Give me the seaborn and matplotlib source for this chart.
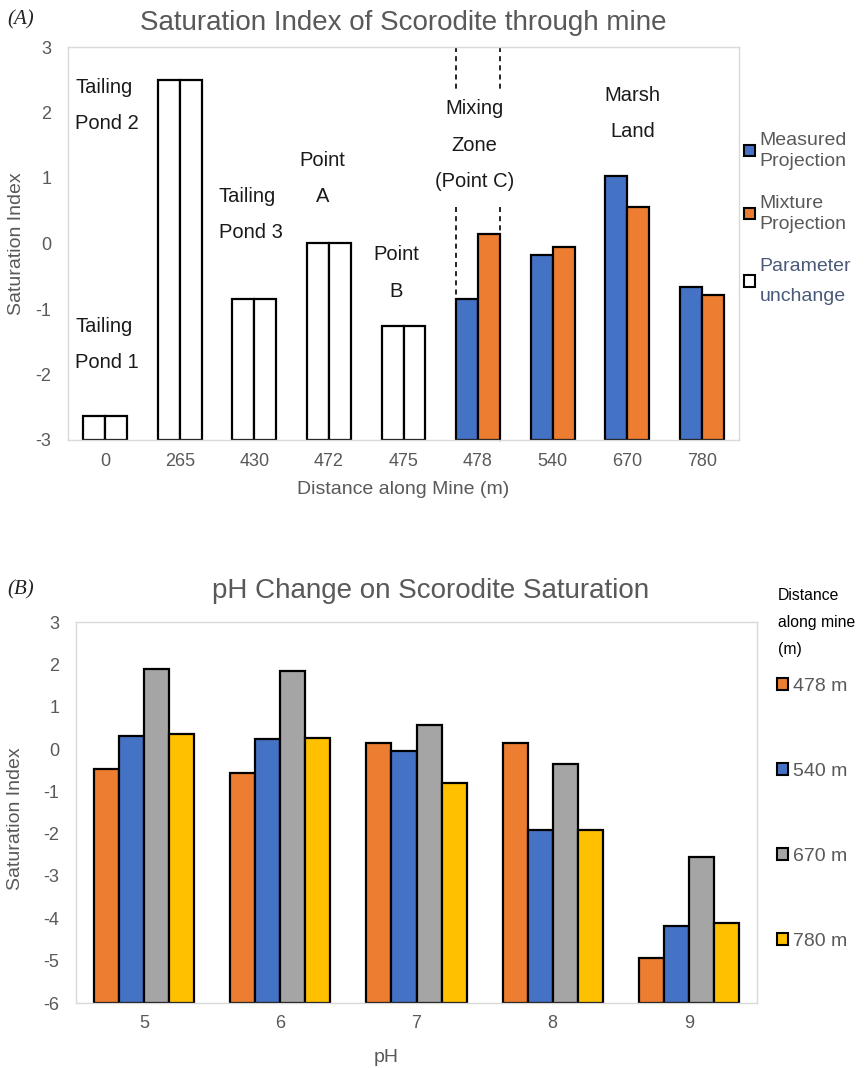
import matplotlib
matplotlib.use("Agg")
import matplotlib.pyplot as plt
from matplotlib.patches import Patch
import pandas as pd
import seaborn as sns

# ---------------- data ----------------
distances = ["0", "265", "430", "472", "475", "478", "540", "670", "780"]
measured = [-2.63, 2.50, -0.85, 0.00, -1.26, -0.85, -0.18, 1.03, -0.67]
mixture = [-2.63, 2.50, -0.85, 0.00, -1.26, 0.14, -0.05, 0.55, -0.79]
unchanged_sites = ["0", "265", "430", "472", "475"]
series_a = ["Measured Projection", "Mixture Projection"]

ph_levels = ["5", "6", "7", "8", "9"]
si_478 = [-0.48, -0.56, 0.13, 0.13, -4.94]
si_540 = [0.31, 0.23, -0.05, -1.91, -4.17]
si_670 = [1.90, 1.84, 0.56, -0.36, -2.56]
si_780 = [0.36, 0.27, -0.80, -1.91, -4.11]
dist_labels = ["478 m", "540 m", "670 m", "780 m"]

# ---------------- style ----------------
BLUE, ORANGE, GRAY, YELLOW = "#4472C4", "#ED7D31", "#A5A5A5", "#FFC000"
TXT = "#595959"
SPINE = "#D9D9D9"

sns.set_style("white")
plt.rcParams["font.family"] = ["Liberation Sans", "DejaVu Sans"]
plt.rcParams["axes.unicode_minus"] = False

fig = plt.figure(figsize=(8.65, 10.68), dpi=100)
W, H = 865, 1068
ax1 = fig.add_axes([68 / W, 1 - 440 / H, (739 - 68) / W, (440 - 47) / H])
ax2 = fig.add_axes([76 / W, 1 - 1003 / H, (757 - 76) / W, (1003 - 622) / H])


def rebase(ax, base):
    for p in ax.patches:
        top = p.get_y() + p.get_height()
        p.set_y(base)
        p.set_height(top - base)


def style_axes(ax):
    for s in ax.spines.values():
        s.set_visible(True)
        s.set_color(SPINE)
        s.set_linewidth(1.0)
    ax.tick_params(axis="both", length=0, labelsize=13, colors=TXT)
    ax.tick_params(axis="x", pad=9)
    ax.tick_params(axis="y", pad=12)
    ax.grid(False)


# ---------------- panel A ----------------
df_a = pd.DataFrame({
    "distance": distances * 2,
    "si": measured + mixture,
    "series": [series_a[0]] * len(distances) + [series_a[1]] * len(distances),
})
width_a = 0.59
sns.barplot(data=df_a, x="distance", y="si", hue="series", order=distances,
            hue_order=series_a, palette=[BLUE, ORANGE], width=width_a,
            saturation=1, edgecolor="black", linewidth=1.6, errorbar=None,
            legend=False, ax=ax1)
rebase(ax1, -3)
for p in ax1.patches:
    idx = int(round(p.get_x() + p.get_width() / 2))
    if distances[idx] in unchanged_sites:
        p.set_facecolor("white")

ax1.set_ylim(-3, 3)
ax1.set_xlim(-0.5, len(distances) - 0.5)
ax1.set_yticks(range(-3, 4))
style_axes(ax1)
ax1.set_xlabel("Distance along Mine (m)", fontsize=14, color=TXT, labelpad=8)
ax1.set_ylabel("Saturation Index", fontsize=14, color=TXT)
ax1.yaxis.set_label_coords((25 - 68) / 671, 0.5)
ax1.set_title("Saturation Index of Scorodite through mine", fontsize=20,
              color=TXT, pad=12)

# mixing zone dashed markers
mz = distances.index("478")
for xx in (mz - width_a / 2, mz + width_a / 2):
    ax1.plot([xx, xx], [3, 2.35], ls=(0, (3, 2.5)), color="black", lw=1.2)
ax1.plot([mz - width_a / 2] * 2, [0.56, -3], ls=(0, (3, 2.5)), color="black", lw=1.2)
ax1.plot([mz + width_a / 2] * 2, [0.56, -3.06], ls=(0, (3, 2.5)), color="black",
         lw=1.2, clip_on=False)

ann_kw = dict(fontsize=14.5, color="#1a1a1a", linespacing=2.15, va="center")
ax1.text(-0.40, -1.54, "Tailing\nPond 1", ha="left", **ann_kw)
ax1.text(-0.40, 2.11, "Tailing\nPond 2", ha="left", **ann_kw)
ax1.text(1.52, 0.44, "Tailing\nPond 3", ha="left", **ann_kw)
ax1.text(2.91, 0.99, "Point\nA", ha="center", **ann_kw)
ax1.text(3.90, -0.45, "Point\nB", ha="center", **ann_kw)
ax1.text(4.95, 1.50, "Mixing\nZone\n(Point C)", ha="center", **ann_kw)
ax1.text(7.07, 1.98, "Marsh\nLand", ha="center", **ann_kw)

handles_a = [Patch(facecolor=BLUE, edgecolor="black", lw=1.5),
             Patch(facecolor=ORANGE, edgecolor="black", lw=1.5),
             Patch(facecolor="white", edgecolor="black", lw=1.5)]
labels_a = ["Measured\nProjection", "Mixture\nProjection", "Parameter\nunchange"]
leg_a = fig.legend(handles_a, labels_a, loc="upper left",
                   bbox_to_anchor=(744 / W, 1 - 132 / H), frameon=False,
                   fontsize=14, handlelength=0.55, handleheight=0.55,
                   handletextpad=0.25, labelspacing=1.3, borderpad=0,
                   borderaxespad=0)
for t in leg_a.get_texts():
    t.set_color(TXT)
    t.set_linespacing(1.28)
leg_a.get_texts()[2].set_color("#4A5A78")
leg_a.get_texts()[2].set_linespacing(2.05)

# ---------------- panel B ----------------
series_b = [si_478, si_540, si_670, si_780]
df_b = pd.DataFrame({
    "ph": [p for _ in dist_labels for p in ph_levels],
    "si": [v for s in series_b for v in s],
    "dist": [d for d in dist_labels for _ in ph_levels],
})
sns.barplot(data=df_b, x="ph", y="si", hue="dist", order=ph_levels,
            hue_order=dist_labels, palette=[ORANGE, BLUE, GRAY, YELLOW],
            width=0.735, saturation=1, edgecolor="black", linewidth=1.6,
            errorbar=None, legend=False, ax=ax2)
rebase(ax2, -6)
ax2.set_ylim(-6, 3)
ax2.set_xlim(-0.5, len(ph_levels) - 0.5)
ax2.set_yticks(range(-6, 4))
style_axes(ax2)
ax2.set_xlabel("pH", fontsize=14, color=TXT)
ax2.xaxis.set_label_coords(0.455, -0.122)
ax2.set_ylabel("Saturation Index", fontsize=14, color=TXT)
ax2.yaxis.set_label_coords((24 - 76) / 681, 0.485)
ax2.set_title("pH Change on Scorodite Saturation", fontsize=20, color=TXT,
              pad=17, x=0.521)

fig.text(778 / W, 1 - 588 / H, "Distance\nalong mine\n(m)", fontsize=11.3,
         color="black", va="top", ha="left", linespacing=2.0)
handles_b = [Patch(facecolor=c, edgecolor="black", lw=1.5)
             for c in (ORANGE, BLUE, GRAY, YELLOW)]
leg_b = fig.legend(handles_b, dist_labels, loc="upper left",
                   bbox_to_anchor=(777 / W, 1 - 678 / H), frameon=False,
                   fontsize=14, handlelength=0.55, handleheight=0.55,
                   handletextpad=0.25, labelspacing=3.5, borderpad=0,
                   borderaxespad=0)
for t in leg_b.get_texts():
    t.set_color(TXT)

# panel letters
fig.text(7 / W, 1 - 20 / H, "(A)", fontsize=15, style="italic",
         family="Liberation Serif", va="center", ha="left", color="#222222")
fig.text(7 / W, 1 - 590 / H, "(B)", fontsize=15, style="italic",
         family="Liberation Serif", va="center", ha="left", color="#222222")

fig.savefig("out.png", dpi=100)
